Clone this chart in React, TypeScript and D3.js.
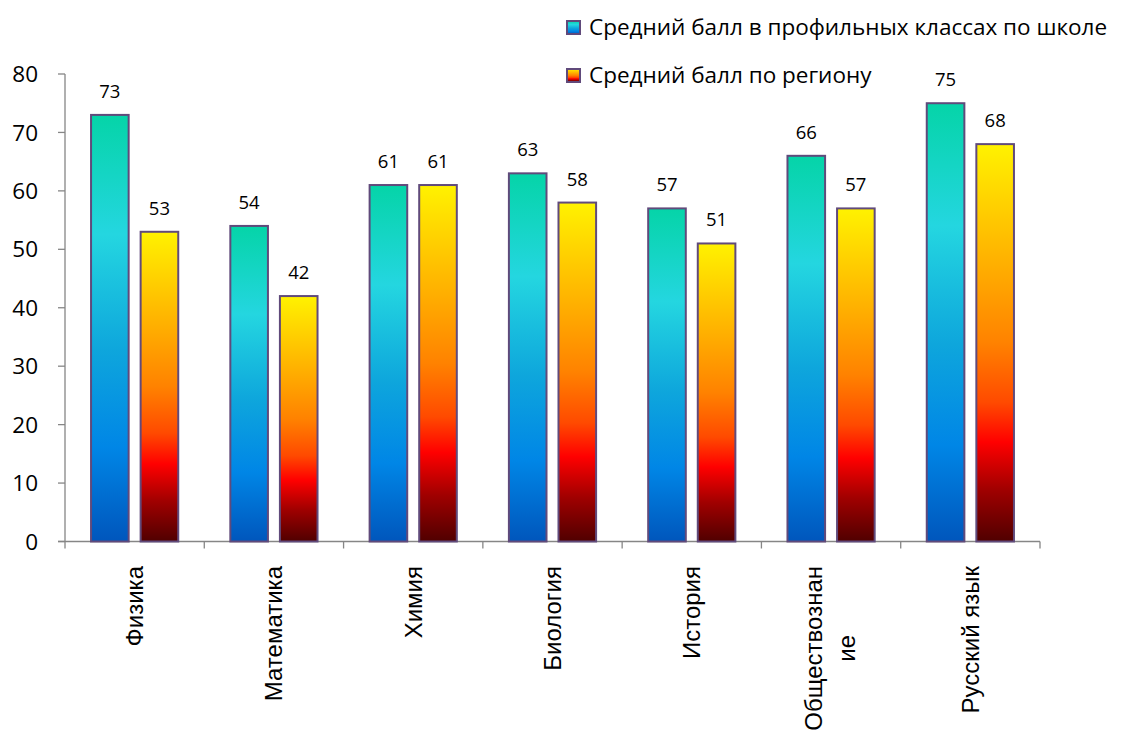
import { useEffect, useRef, useState } from "react";
import * as d3 from "d3";

const subjects = [
  ["Физика"],
  ["Математика"],
  ["Химия"],
  ["Биология"],
  ["История"],
  ["Обществознан", "ие"],
  ["Русский язык"],
];
const schoolScores = [73, 54, 61, 63, 57, 66, 75];
const regionScores = [53, 42, 61, 58, 51, 57, 68];
const yTicks = [0, 10, 20, 30, 40, 50, 60, 70, 80];
const legendLabels = [
  "Средний балл в профильных классах по школе",
  "Средний балл по региону",
];

const W = 1123;
const H = 731;
const left = 65;
const right = 1040;
const top = 74;
const bottom = 541.5;
const labelTop = 566;

const axisColor = "#868686";
const barStroke = "#604a7b";
const numFont = "'Open Sans', 'Noto Sans', sans-serif";
const catFont = "'Liberation Sans', Arial, sans-serif";

const schoolStops = [
  [0, "#05d4a8"],
  [0.28, "#24d6e0"],
  [0.55, "#0ea6dc"],
  [0.78, "#0086e6"],
  [1, "#0056bc"],
];
const regionStops = [
  [0, "#fff200"],
  [0.3, "#ffb000"],
  [0.5, "#ff8200"],
  [0.65, "#ff4a00"],
  [0.75, "#ff0000"],
  [0.87, "#a00000"],
  [1, "#500000"],
];

export default function App() {
  const firstLineRef = useRef<SVGTextElement>(null);
  const [wrapLen, setWrapLen] = useState(160);

  useEffect(() => {
    if (firstLineRef.current) setWrapLen(firstLineRef.current.getComputedTextLength());
  }, []);

  const idx = subjects.map((_, i) => String(i));
  const x = d3.scaleBand().domain(idx).range([left, right]).padding(0);
  const y = d3.scaleLinear().domain([0, 80]).range([bottom, top]);
  const bw = x.bandwidth();
  const barW = bw * 0.27;
  const gap = bw * 0.086;
  const series = [
    { values: schoolScores, grad: "url(#gSchool)", off: -(barW + gap) / 2 },
    { values: regionScores, grad: "url(#gRegion)", off: (barW + gap) / 2 },
  ];
  const boundaries = d3.range(subjects.length + 1).map((i) => left + i * bw);

  return (
    <svg
      width={W}
      height={H}
      style={{ position: "absolute", left: 0, top: 0, background: "#fff" }}
    >
      <defs>
        <linearGradient id="gSchool" x1="0" y1="0" x2="0" y2="1">
          {schoolStops.map(([o, c], i) => (
            <stop key={i} offset={o as number} stopColor={c as string} />
          ))}
        </linearGradient>
        <linearGradient id="gRegion" x1="0" y1="0" x2="0" y2="1">
          {regionStops.map(([o, c], i) => (
            <stop key={i} offset={o as number} stopColor={c as string} />
          ))}
        </linearGradient>
      </defs>

      {/* y axis */}
      <line x1={left} x2={left} y1={top} y2={bottom} stroke={axisColor} strokeWidth={1.3} />
      {yTicks.map((t) => (
        <g key={t}>
          <line x1={left - 7} x2={left} y1={y(t)} y2={y(t)} stroke={axisColor} strokeWidth={1.3} />
          <text
            x={left - 27}
            y={y(t)}
            dy="0.36em"
            textAnchor="end"
            fontFamily={numFont}
            fontSize={22.5}
            fill="#000"
          >
            {t}
          </text>
        </g>
      ))}

      {/* x axis */}
      <line x1={left - 7} x2={right} y1={bottom} y2={bottom} stroke={axisColor} strokeWidth={1.3} />
      {boundaries.map((b, i) => (
        <line key={i} x1={b} x2={b} y1={bottom} y2={bottom + 7} stroke={axisColor} strokeWidth={1.3} />
      ))}

      {/* bars */}
      {series.map((s, si) =>
        s.values.map((v, i) => {
          const cx = x(String(i))! + bw / 2 + s.off;
          return (
            <g key={`${si}-${i}`}>
              <rect
                x={cx - barW / 2}
                y={y(v)}
                width={barW}
                height={y(0) - y(v)}
                fill={s.grad}
                stroke={barStroke}
                strokeWidth={2}
              />
              <text
                x={cx}
                y={y(v) - 17}
                textAnchor="middle"
                fontFamily={numFont}
                fontSize={18.5}
                fill="#000"
              >
                {v}
              </text>
            </g>
          );
        })
      )}

      {/* category labels */}
      {subjects.map((lines, i) => {
        const cx = x(String(i))! + bw / 2;
        if (lines.length === 1) {
          return (
            <text
              key={i}
              transform={`translate(${cx + 8.5},${labelTop}) rotate(-90)`}
              textAnchor="end"
              fontFamily={catFont}
              fontSize={24}
              fill="#000"
            >
              {lines[0]}
            </text>
          );
        }
        return (
          <g key={i}>
            <text
              ref={firstLineRef}
              transform={`translate(${cx - 9},${labelTop}) rotate(-90)`}
              textAnchor="end"
              fontFamily={catFont}
              fontSize={24}
              fill="#000"
            >
              {lines[0]}
            </text>
            <text
              transform={`translate(${cx + 23.5},${labelTop + wrapLen / 2}) rotate(-90)`}
              textAnchor="middle"
              fontFamily={catFont}
              fontSize={24}
              fill="#000"
            >
              {lines[1]}
            </text>
          </g>
        );
      })}

      {/* legend */}
      {legendLabels.map((lab, i) => (
        <g key={lab} transform={`translate(567,${21 + i * 48})`}>
          <rect
            width={13}
            height={13}
            fill={i === 0 ? "url(#gSchool)" : "url(#gRegion)"}
            stroke={barStroke}
            strokeWidth={2}
          />
          <text x={22} y={14} fontFamily={numFont} fontSize={22.5} fill="#000">
            {lab}
          </text>
        </g>
      ))}
    </svg>
  );
}
